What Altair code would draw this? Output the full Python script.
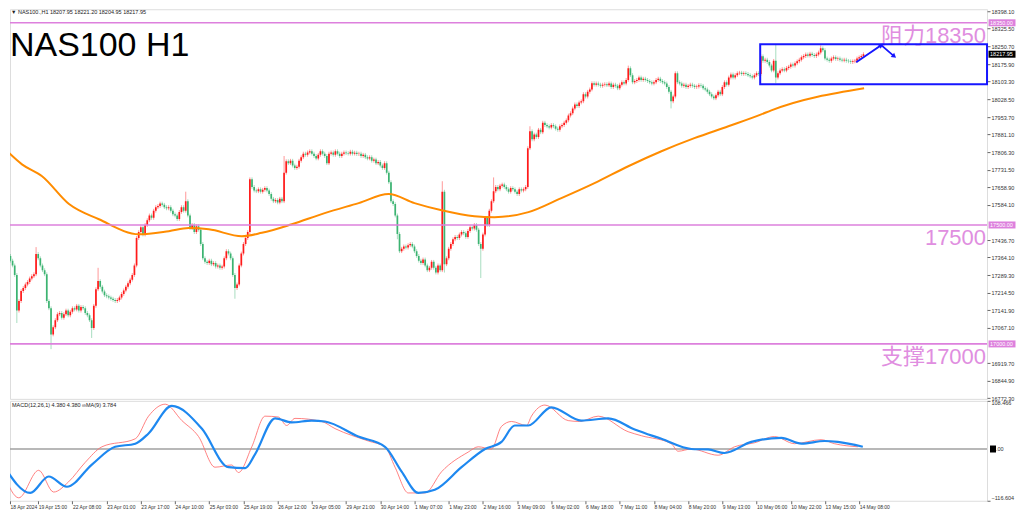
import altair as alt
import pandas as pd

# ---------------- data ----------------
OPEN0 = 17420.0
CLOSES = [
    17400, 17385, 17370, 17350, 17330, 17290, 17140, 17180, 17222, 17235,
    17250, 17260, 17275, 17285, 17293, 17378, 17360, 17330, 17310, 17293,
    17180, 17150, 17040, 17070, 17100, 17125, 17130, 17110, 17125, 17140,
    17120, 17135, 17150, 17145, 17160, 17140, 17155, 17150, 17130, 17120,
    17100, 17067, 17160, 17230, 17264, 17240, 17220, 17205, 17200, 17195,
    17190, 17185, 17180, 17185, 17195, 17210, 17225, 17240, 17255, 17270,
    17290, 17330, 17445, 17470, 17490, 17460, 17500, 17520, 17540, 17530,
    17560, 17575, 17580, 17590, 17585, 17575, 17570, 17575, 17560, 17545,
    17540, 17525, 17555, 17575, 17560, 17600, 17540, 17487, 17500, 17470,
    17495, 17480, 17420, 17360, 17345, 17340, 17350, 17335, 17340, 17325,
    17330, 17320, 17325, 17360, 17390, 17380, 17360, 17290, 17235, 17250,
    17330, 17380, 17420, 17445, 17470, 17692, 17660, 17645, 17642, 17650,
    17640, 17648, 17655, 17645, 17630, 17610, 17600, 17605, 17595, 17610,
    17600, 17720, 17768, 17760, 17770, 17750, 17740, 17745, 17770, 17785,
    17800, 17795, 17805, 17810, 17800, 17790, 17780, 17795, 17810, 17800,
    17790, 17760, 17800, 17805, 17795, 17810, 17800, 17790, 17800, 17805,
    17802, 17800, 17808, 17800, 17804, 17798, 17800, 17790, 17795, 17785,
    17780, 17785, 17770, 17775, 17760, 17765, 17750, 17740, 17760, 17720,
    17680, 17600, 17588, 17540, 17462, 17390, 17400, 17410, 17405, 17415,
    17420, 17410, 17390, 17370, 17350, 17340, 17355, 17330, 17310, 17320,
    17345, 17320, 17300, 17330, 17310, 17640, 17335, 17360, 17400, 17420,
    17440, 17450, 17445, 17460, 17470, 17465, 17450, 17475, 17490, 17485,
    17500, 17480, 17420, 17400, 17460, 17529, 17500, 17560, 17600, 17642,
    17660, 17650, 17665, 17670, 17660, 17650, 17640, 17655, 17650, 17640,
    17630, 17650, 17645, 17650, 17660, 17823, 17894, 17860, 17880, 17870,
    17900, 17890, 17930, 17920, 17915, 17910, 17920, 17915, 17905, 17900,
    17915, 17920, 17930, 17940, 17960, 17970, 17990, 18007, 18000, 18015,
    18020, 18050, 18040, 18060, 18070, 18096, 18090, 18095, 18090, 18085,
    18090, 18092, 18088, 18095, 18080, 18090, 18085, 18075, 18090, 18100,
    18095, 18110, 18159, 18130, 18100, 18105, 18110, 18120, 18110, 18115,
    18110, 18105, 18100, 18095, 18100, 18110, 18115, 18105, 18100, 18095,
    18080, 18060, 18020, 18040, 18138, 18100, 18095, 18085, 18090, 18080,
    18085, 18090, 18085, 18080, 18082, 18088, 18085, 18075, 18070, 18060,
    18050, 18040, 18033, 18045, 18060, 18050, 18080, 18100, 18090, 18120,
    18133, 18120, 18130, 18138, 18140, 18135, 18138, 18135, 18130, 18125,
    18120, 18130, 18138, 18135, 18209, 18190, 18195, 18185, 18170, 18150,
    18190, 18120, 18138, 18150, 18155, 18150, 18160, 18165, 18175, 18170,
    18180, 18188, 18195, 18205, 18210, 18217, 18212, 18220, 18215, 18210,
    18217, 18225, 18243, 18235, 18200, 18195, 18190, 18200, 18205, 18198,
    18200, 18195, 18192, 18195, 18190, 18188, 18185, 18188, 18190, 18200,
    18205, 18210, 18217.95,
]
WICK_HI = {15: 17407, 44: 17320, 85: 17640, 115: 17700, 131: 17790, 205: 17684,
           229: 17700, 246: 17915, 292: 18170, 361: 18260, 382: 18255}
WICK_LO = {6: 17088, 22: 16978, 41: 17025, 108: 17190, 184: 17440, 206: 17300,
           223: 17277, 312: 17990, 361: 18096}
BASE_WICK = 8.0

MA_IDX = [0, 8.4, 17.8, 30.4, 44.4, 63.1, 77.1, 86.4, 95.8, 111.2, 120.6, 134.6,
          150, 165.9, 179.9, 192, 204.7, 220, 229.4, 245.3, 260.7, 276.2, 292,
          307.5, 322.9, 338.8, 354.2, 358.9, 402.3]
MA_VAL = [17823, 17755, 17705, 17588, 17524, 17461, 17474, 17487, 17482, 17453,
          17467, 17503, 17550, 17592, 17630, 17592, 17562, 17537, 17533, 17554,
          17613, 17676, 17747, 17810, 17865, 17915, 17965, 17982, 18075]

SIG_IDX = [0, 12.3, 20.9, 29.4, 41.1, 52, 61.4, 67.6, 78.5, 92.5, 105, 112.8,
           117.4, 126.8, 134.6, 143.9, 150.1, 165.7, 178.2, 186, 193.8, 201.5,
           214, 225, 232.7, 238.9, 245.2, 256, 270, 282.6, 295, 307.5, 321.5,
           329.3, 337, 349.5, 363.6, 373, 383.8, 390, 401.7]
SIG_VAL = [-39, -99, -62, -85, -35, 5, 12, 35, 97, 46, -41, -43, -12, 69, 60, 64,
           62, 28, 5, -51, -99, -92, -41, 0, 16, 53, 53, 94, 64, 69, 44, 23, 0,
           -1, -9, 16, 25, 12, 18, 16, 5]
MACD_IDX = [0, 6.9, 16.2, 23.2, 30.2, 38, 45.8, 61.4, 67.6, 75.4, 83.2, 91, 98.7,
            106.5, 109.7, 115.9, 122.1, 128.4, 132.2, 136.1, 148.6, 154.8, 170.4,
            178.2, 182.9, 189.1, 196.9, 204.7, 217.1, 221.8, 228, 232.7, 237.4,
            244.4, 246.7, 253, 263.9, 269.3, 277.9, 291.9, 298.1, 312.1, 315.3,
            321.5, 334, 341.7, 351, 360.4, 369.8, 382.2, 388.4, 399.4]
MACD_VAL = [-58, -110, -48, -97, -74, -30, 5, 23, 74, 101, 64, 28, -41, -36, -53,
            5, 74, 72, 53, 69, 62, 46, 18, 5, -41, -99, -99, -51, -7, 5, 0, 51,
            62, 53, 74, 99, 64, 62, 74, 39, 30, 12, -5, 0, -14, 5, 14, 28, 12,
            21, 12, 5]

X_LABELS = ['18 Apr 2024', '19 Apr 15:00', '22 Apr 08:00', '23 Apr 01:00',
            '23 Apr 17:00', '24 Apr 10:00', '25 Apr 03:00', '25 Apr 19:00',
            '26 Apr 12:00', '29 Apr 05:00', '29 Apr 21:00', '30 Apr 14:00',
            '1 May 07:00', '1 May 23:00', '2 May 16:00', '3 May 09:00',
            '6 May 02:00', '6 May 18:00', '7 May 11:00', '8 May 04:00',
            '8 May 20:00', '9 May 13:00', '10 May 06:00', '10 May 22:00',
            '13 May 15:00', '14 May 08:00']
Y_TICKS = [18398.10, 18325.50, 18250.70, 18175.90, 18103.30, 18028.50, 17953.70,
           17881.10, 17806.30, 17731.50, 17658.90, 17584.10, 17436.70, 17364.10,
           17289.30, 17214.50, 17141.90, 17067.10, 16919.70, 16844.90, 16772.30]
LEVELS = [18350, 17500, 17000]
LEVEL_TEXT = ['阻力18350', '17500', '支撑17000']
TAG_PRICES = [18350, 18217.95, 17500, 17000]
TAG_TEXT = ['18350.00', '18217.95', '17500.00', '17000.00']
TAG_COLORS = ['#dd80dd', '#000000', '#dd80dd', '#dd80dd']
ARROW_IDX = [398.6, 410.3, 416.4]
ARROW_PRICE = [18184, 18256, 18209]
HEAD_IDX = [410.3, 416.4]
HEAD_PRICE = [18256, 18209]
HEAD_ANGLE = [56, 130]
HEADER = '▼  NAS100.,H1   18207.95 18221.20 18204.95 18217.95'
TITLE = 'NAS100 H1'
MACD_LABEL = 'MACD(12,26,1) 4.380 4.380  ∞MA(9) 3.784'

# ---------------- build tables ----------------
rows = []
prev = OPEN0
for i, c in enumerate(CLOSES):
    o = prev
    h = WICK_HI.get(i, max(o, c) + BASE_WICK)
    l = WICK_LO.get(i, min(o, c) - BASE_WICK)
    rows.append({'i': i, 'o': o, 'c': c, 'h': h, 'l': l,
                 'col': '#ff1a1a' if c >= o else '#3cb371'})
    prev = c
candles = pd.DataFrame(rows)

W = 978
H_MAIN = 390
H_MACD = 100
FONT = 'Liberation Sans'
X_MIN, X_MAX = 2.8, 459.8   # the first bars sit just left of the visible window
BOX = {'i0': 353.7, 'i1': X_MAX, 'p_hi': 18260, 'p_lo': 18092}

XS = alt.Scale(domain=[X_MIN, X_MAX], nice=False, zero=False, padding=0)
YS = alt.Scale(domain=[16769, 18407], nice=False, zero=False, padding=0)
YAX = alt.Axis(orient='right', values=Y_TICKS, format='.2f', labelFontSize=5.5,
               labelFont=FONT, labelColor='#333', tickSize=3, tickColor='#666',
               labelPadding=1, domain=False, grid=False, title=None,
               labelOverlap=False, labelFlush=False)

def X(field):
    return alt.X(field, type='quantitative', scale=XS, axis=None)

def Y(field):
    return alt.Y(field, type='quantitative', scale=YS, axis=YAX)

wicks = alt.Chart(candles).mark_rule(strokeWidth=1, opacity=0.45, clip=True).encode(
    x=X('i'), y=Y('l'), y2='h', color=alt.Color('col:N', scale=None))
bodies = alt.Chart(candles).mark_bar(size=1.7, clip=True).encode(
    x=X('i'), y=Y('o'), y2='c', color=alt.Color('col:N', scale=None))

ma = alt.Chart(pd.DataFrame({'i': MA_IDX, 'v': MA_VAL})).mark_line(
    color='#ff8c00', strokeWidth=2, interpolate='monotone', clip=True).encode(
    x=X('i'), y=Y('v'))

lv = pd.DataFrame({'p': LEVELS, 't': LEVEL_TEXT})
levels = alt.Chart(lv).mark_rule(color='#dd80dd', strokeWidth=1.6).encode(y=Y('p'))
level_text = alt.Chart(lv).mark_text(
    align='right', baseline='top', dy=3, fontSize=22, color='#e08ee0',
    font='Liberation Sans, Noto Sans CJK SC').encode(
    x=alt.value(W - 1), y=Y('p'), text='t:N')

box = alt.Chart(pd.DataFrame([BOX])).mark_rect(
    fillOpacity=0, stroke='#1616ff', strokeWidth=2).encode(
    x=X('i0'), x2='i1', y=Y('p_hi'), y2='p_lo')

arrow = alt.Chart(pd.DataFrame({'i': ARROW_IDX, 'p': ARROW_PRICE, 'k': range(3)})).mark_line(
    color='#1616ff', strokeWidth=1.8).encode(x=X('i'), y=Y('p'), order='k:Q')
heads = alt.Chart(pd.DataFrame({'i': HEAD_IDX, 'p': HEAD_PRICE, 'a': HEAD_ANGLE})).mark_point(
    shape='triangle-up', filled=True, color='#1616ff', size=30, opacity=1).encode(
    x=X('i'), y=Y('p'), angle=alt.Angle('a:Q', scale=None))

title = alt.Chart(pd.DataFrame({'t': [TITLE]})).mark_text(
    align='left', baseline='alphabetic', fontSize=34, font=FONT, color='#000').encode(
    x=alt.value(0), y=alt.value(47), text='t:N')
header = alt.Chart(pd.DataFrame({'t': [HEADER]})).mark_text(
    align='left', baseline='top', fontSize=5.5, font=FONT, color='#222').encode(
    x=alt.value(1), y=alt.value(1), text='t:N')

tags = pd.DataFrame({'p': TAG_PRICES, 't': TAG_TEXT, 'c': TAG_COLORS})
tag_box = alt.Chart(tags).mark_tick(size=27, thickness=7, opacity=1).encode(
    x=alt.value(W + 15), y=Y('p'), color=alt.Color('c:N', scale=None))
tag_text = alt.Chart(tags).mark_text(
    align='left', baseline='middle', fontSize=5.5, font=FONT, color='white').encode(
    x=alt.value(W + 3), y=Y('p'), text='t:N')

main = alt.layer(wicks, bodies, ma, levels, level_text, box, arrow, heads,
                 title, header, tag_box, tag_text).properties(width=W, height=H_MAIN)

# ---------------- MACD panel ----------------
label_arr = '[' + ','.join("'%s'" % s for s in X_LABELS) + ']'
X_TICKS = [X_MIN] + list(range(16, 401, 16))
XAX2 = alt.Axis(values=X_TICKS,
                labelExpr=label_arr + '[round(datum.value/16)]',
                labelAlign='left', labelFontSize=5.0, labelFont=FONT,
                labelColor='#333', tickSize=3, tickColor='#666', labelPadding=1,
                domain=False, grid=False, title=None, labelOverlap=False,
                labelFlush=False, labelBound=False)
YS2 = alt.Scale(domain=[-116.604, 108.466], nice=False, zero=False, padding=0)
YAX2 = alt.Axis(orient='right', values=[108.466, -116.604], format='.3f',
                labelFontSize=5.5, labelFont=FONT, labelColor='#333', tickSize=3,
                tickColor='#666', labelPadding=1, domain=False, grid=False,
                title=None, labelFlush=True)

def X2(field):
    return alt.X(field, type='quantitative', scale=XS, axis=XAX2)

def Y2(field):
    return alt.Y(field, type='quantitative', scale=YS2, axis=YAX2)

zero = alt.Chart(pd.DataFrame({'z': [0]})).mark_rule(color='#a0a0a0', strokeWidth=1.5).encode(y=Y2('z'))
macd_line = alt.Chart(pd.DataFrame({'i': MACD_IDX, 'v': MACD_VAL})).mark_line(
    color='#ff6b6b', strokeWidth=1, opacity=0.85, interpolate='monotone', clip=True).encode(
    x=X2('i'), y=Y2('v'))
sig_line = alt.Chart(pd.DataFrame({'i': SIG_IDX, 'v': SIG_VAL})).mark_line(
    color='#1e88f0', strokeWidth=2.2, interpolate='monotone', clip=True).encode(
    x=X2('i'), y=Y2('v'))
macd_text = alt.Chart(pd.DataFrame({'t': [MACD_LABEL]})).mark_text(
    align='left', baseline='top', fontSize=5.5, font=FONT, color='#222').encode(
    x=alt.value(2), y=alt.value(2), text='t:N')
zero_box = alt.Chart(pd.DataFrame({'z': [0]})).mark_tick(
    size=6, thickness=7, color='#000', opacity=1).encode(x=alt.value(W + 6), y=Y2('z'))
zero_text = alt.Chart(pd.DataFrame({'z': [0], 't': ['.00']})).mark_text(
    align='left', baseline='middle', fontSize=5.5, font=FONT, color='#333').encode(
    x=alt.value(W + 9), y=Y2('z'), text='t:N')

macd = alt.layer(zero, macd_line, sig_line, macd_text, zero_box, zero_text).properties(
    width=W, height=H_MACD)

chart = alt.vconcat(main, macd, spacing=2, bounds='flush').properties(
    padding={'left': 0, 'top': 0, 'right': 0, 'bottom': 0}
).configure_view(stroke='#808080', strokeWidth=1).configure(background='white')

chart.save('out.html', embed_options={'renderer': 'svg', 'actions': False})
